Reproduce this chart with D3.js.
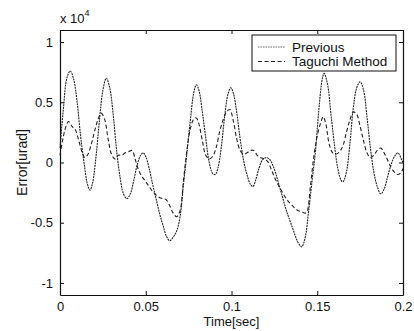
<!DOCTYPE html>
<html>
<head>
<meta charset="utf-8">
<script src="https://cdn.jsdelivr.net/npm/d3@7"></script>
<style>
  body { margin: 0; background: #fff; }
  svg { display: block; font-family: "Liberation Sans", Arial, sans-serif; }
</style>
</head>
<body>
<div id="chart"></div>
<script>
// values (error in units of 1e4 urad)
const prevTime = [0, 0.002, 0.004, 0.006, 0.008, 0.010, 0.012, 0.014, 0.016, 0.0175, 0.019, 0.021, 0.023, 0.025, 0.027, 0.029, 0.031, 0.033, 0.035, 0.037, 0.039, 0.041, 0.043, 0.045, 0.047, 0.0485, 0.050, 0.052, 0.054, 0.056, 0.058, 0.060, 0.062, 0.064, 0.066, 0.068, 0.070, 0.072, 0.074, 0.076, 0.078, 0.0795, 0.081, 0.083, 0.085, 0.087, 0.089, 0.0905, 0.092, 0.094, 0.096, 0.098, 0.0995, 0.101, 0.103, 0.105, 0.107, 0.109, 0.111, 0.1125, 0.114, 0.116, 0.118, 0.120, 0.122, 0.124, 0.126, 0.128, 0.130, 0.132, 0.134, 0.136, 0.138, 0.140, 0.141, 0.143, 0.145, 0.147, 0.149, 0.151, 0.153, 0.154, 0.156, 0.158, 0.160, 0.162, 0.164, 0.165, 0.167, 0.169, 0.171, 0.173, 0.175, 0.177, 0.179, 0.181, 0.183, 0.185, 0.187, 0.189, 0.191, 0.193, 0.195, 0.197, 0.199, 0.200]
const prevValues = [0.12, 0.45, 0.70, 0.76, 0.69, 0.50, 0.22, 0.00, -0.18, -0.23, -0.17, 0.05, 0.35, 0.60, 0.70, 0.62, 0.40, 0.10, -0.12, -0.26, -0.30, -0.26, -0.15, -0.02, 0.06, 0.08, 0.05, -0.05, -0.18, -0.30, -0.42, -0.52, -0.61, -0.65, -0.62, -0.57, -0.45, -0.18, 0.08, 0.35, 0.58, 0.645, 0.60, 0.42, 0.20, 0.00, -0.09, -0.10, -0.05, 0.12, 0.38, 0.57, 0.62, 0.58, 0.42, 0.20, 0.02, -0.10, -0.18, -0.20, -0.15, -0.05, 0.02, 0.04, 0.03, -0.02, -0.10, -0.20, -0.30, -0.40, -0.48, -0.56, -0.64, -0.69, -0.70, -0.62, -0.40, -0.15, 0.10, 0.45, 0.70, 0.74, 0.65, 0.40, 0.15, -0.05, -0.15, -0.16, -0.08, 0.15, 0.45, 0.62, 0.67, 0.60, 0.38, 0.12, -0.08, -0.20, -0.26, -0.22, -0.12, -0.02, 0.05, 0.08, 0.03, 0.00]

const tagTime = [0, 0.002, 0.004, 0.005, 0.007, 0.009, 0.011, 0.013, 0.0145, 0.016, 0.018, 0.020, 0.022, 0.024, 0.026, 0.028, 0.030, 0.032, 0.034, 0.036, 0.038, 0.040, 0.042, 0.044, 0.046, 0.048, 0.050, 0.052, 0.054, 0.056, 0.058, 0.060, 0.062, 0.064, 0.066, 0.068, 0.070, 0.072, 0.074, 0.076, 0.078, 0.0795, 0.081, 0.083, 0.085, 0.087, 0.089, 0.091, 0.093, 0.095, 0.097, 0.099, 0.101, 0.103, 0.105, 0.107, 0.109, 0.111, 0.113, 0.115, 0.117, 0.119, 0.121, 0.123, 0.125, 0.127, 0.129, 0.131, 0.133, 0.135, 0.137, 0.139, 0.141, 0.143, 0.144, 0.146, 0.148, 0.150, 0.152, 0.1535, 0.155, 0.157, 0.159, 0.161, 0.163, 0.165, 0.167, 0.169, 0.171, 0.173, 0.175, 0.177, 0.179, 0.181, 0.183, 0.185, 0.187, 0.189, 0.191, 0.193, 0.195, 0.197, 0.199, 0.200]
const tagValues = [0.06, 0.22, 0.32, 0.34, 0.30, 0.27, 0.18, 0.08, 0.04, 0.06, 0.14, 0.25, 0.35, 0.41, 0.36, 0.20, 0.07, 0.03, 0.06, 0.06, 0.08, 0.09, 0.10, 0.02, -0.07, -0.12, -0.16, -0.20, -0.24, -0.27, -0.29, -0.30, -0.31, -0.36, -0.42, -0.45, -0.40, -0.15, 0.10, 0.28, 0.36, 0.37, 0.32, 0.18, 0.06, 0.03, 0.05, 0.12, 0.25, 0.35, 0.42, 0.44, 0.35, 0.20, 0.10, 0.07, 0.08, 0.10, 0.10, 0.06, 0.04, 0.03, 0.01, -0.05, -0.12, -0.18, -0.23, -0.28, -0.32, -0.35, -0.38, -0.40, -0.41, -0.42, -0.41, -0.20, 0.05, 0.22, 0.33, 0.38, 0.32, 0.15, 0.08, 0.07, 0.09, 0.14, 0.25, 0.35, 0.42, 0.40, 0.30, 0.18, 0.08, 0.04, 0.06, 0.10, 0.12, 0.08, 0.02, -0.04, -0.08, -0.10, -0.08, -0.05]

const xTicks = [0, 0.05, 0.1, 0.15, 0.2]
const yTicks = [-1, -0.5, 0, 0.5, 1]
const seriesNames = ['Previous', 'Taguchi Method']

const width = 414
const height = 331
const margin = { top: 30, right: 11, bottom: 36, left: 60 }

const svg = d3.select('#chart')
  .append('svg')
  .attr('width', width)
  .attr('height', height)

const x = d3.scaleLinear().domain([0, 0.2]).range([margin.left, width - margin.right])
const y = d3.scaleLinear().domain([-1.1, 1.1]).range([height - margin.bottom, margin.top])

// axes: matlab style, ticks pointing inwards on all four sides
const fmt = d => d === 0 ? '0' : String(d)
const tickLen = 4

svg.append('g')
  .attr('transform', 'translate(0,' + (height - margin.bottom) + ')')
  .call(d3.axisBottom(x).tickValues(xTicks).tickFormat(fmt).tickSizeInner(-tickLen).tickSizeOuter(0).tickPadding(7))
svg.append('g')
  .attr('transform', 'translate(0,' + margin.top + ')')
  .call(d3.axisTop(x).tickValues(xTicks).tickFormat('').tickSizeInner(-tickLen).tickSizeOuter(0))
svg.append('g')
  .attr('transform', 'translate(' + margin.left + ',0)')
  .call(d3.axisLeft(y).tickValues(yTicks).tickFormat(fmt).tickSizeInner(-tickLen).tickSizeOuter(0).tickPadding(7))
svg.append('g')
  .attr('transform', 'translate(' + (width - margin.right) + ',0)')
  .call(d3.axisRight(y).tickValues(yTicks).tickFormat('').tickSizeInner(-tickLen).tickSizeOuter(0))

svg.selectAll('.domain').attr('stroke', '#111').attr('stroke-width', 1.2)
svg.selectAll('.tick line').attr('stroke', '#111')
svg.selectAll('.tick text')
  .attr('fill', '#111')
  .style('font-size', '13px')

// exponent label
const expo = svg.append('text')
  .attr('x', margin.left)
  .attr('y', 23)
  .attr('fill', '#111')
  .style('font-size', '13px')
expo.append('tspan').text('x 10')
expo.append('tspan').attr('dy', -7).style('font-size', '9px').text('4')

// axis titles
svg.append('text')
  .attr('x', (margin.left + width - margin.right) / 2)
  .attr('y', 326)
  .attr('text-anchor', 'middle')
  .attr('fill', '#111')
  .style('font-size', '13px')
  .text('Time[sec]')

svg.append('text')
  .attr('transform', 'translate(27,' + y(0) + ') rotate(-90)')
  .attr('text-anchor', 'middle')
  .attr('fill', '#111')
  .style('font-size', '14px')
  .text('Error[urad]')

// lines
const line = d3.line()
  .x(d => x(d[0]))
  .y(d => y(d[1]))
  .curve(d3.curveCatmullRom.alpha(0.5))

const prevData = prevTime.map((t, i) => [t, prevValues[i]])
const tagData = tagTime.map((t, i) => [t, tagValues[i]])

svg.append('path')
  .datum(tagData)
  .attr('fill', 'none')
  .attr('stroke', '#222')
  .attr('stroke-width', 1.1)
  .attr('stroke-dasharray', '4,2.5')
  .attr('d', line)

svg.append('path')
  .datum(prevData)
  .attr('fill', 'none')
  .attr('stroke', '#222')
  .attr('stroke-width', 1.1)
  .attr('stroke-dasharray', '2,0.8')
  .attr('d', line)

// legend
const legend = svg.append('g').attr('transform', 'translate(252,35)')
legend.append('rect')
  .attr('width', 144)
  .attr('height', 36)
  .attr('fill', '#fff')
  .attr('stroke', '#111')
  .attr('stroke-width', 1)

const dashes = ['1.5,1', '4,2.5']
seriesNames.forEach((name, i) => {
  const ly = 12 + i * 14.5
  legend.append('line')
    .attr('x1', 6)
    .attr('x2', 33)
    .attr('y1', ly)
    .attr('y2', ly)
    .attr('stroke', i === 0 ? '#666' : '#222')
    .attr('stroke-width', 1)
    .attr('stroke-dasharray', dashes[i])
  legend.append('text')
    .attr('x', 40)
    .attr('y', ly + 4.5)
    .attr('fill', '#111')
    .style('font-size', '13.5px')
    .text(name)
})
</script>
</body>
</html>
